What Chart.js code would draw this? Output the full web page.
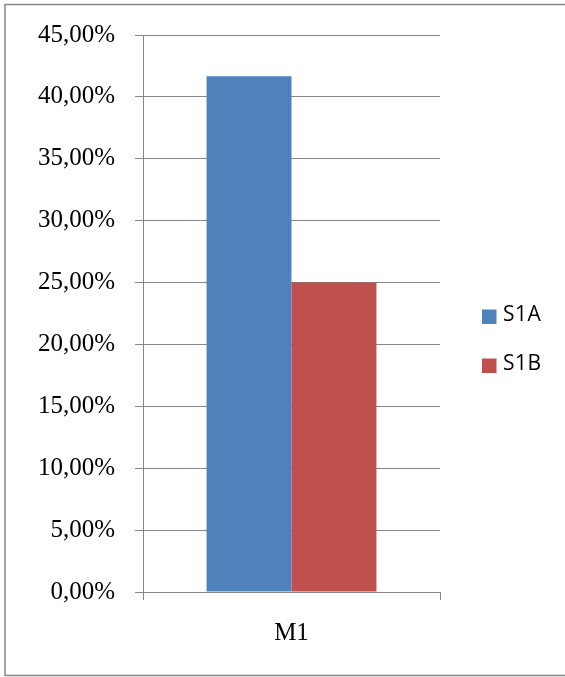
<!DOCTYPE html>
<html>
<head>
<meta charset="utf-8">
<script src="https://cdn.jsdelivr.net/npm/chart.js@4/dist/chart.umd.min.js"></script>
<style>
  html, body { margin: 0; padding: 0; background: #fff; }
  #wrap { width: 565px; height: 677px; position: relative; }
</style>
</head>
<body>
<div id="wrap"><canvas id="c" width="565" height="677"></canvas></div>
<script>
const categories = ['M1'];
const seriesNames = ['S1A', 'S1B'];
const s1aValues = [0.4167];
const s1bValues = [0.25];
const seriesColors = ['#4F81BD', '#C0504D'];
const yTickLabels = ['0,00%', '5,00%', '10,00%', '15,00%', '20,00%', '25,00%', '30,00%', '35,00%', '40,00%', '45,00%'];

const frame = {
  id: 'frame',
  beforeDraw(chart) {
    const ctx = chart.ctx;
    ctx.save();
    ctx.fillStyle = '#fff';
    ctx.fillRect(0, 0, chart.width, chart.height);
    ctx.strokeStyle = '#868686';
    ctx.lineWidth = 1.5;
    ctx.strokeRect(5, 4.5, chart.width + 10, chart.height - 6);
    ctx.restore();
  }
};

const sideLegend = {
  id: 'sideLegend',
  afterDraw(chart) {
    const ctx = chart.ctx;
    const a = chart.chartArea;
    ctx.save();
    ctx.font = '21px "Open Sans"';
    if ('letterSpacing' in ctx) ctx.letterSpacing = '0.5px';
    ctx.textBaseline = 'alphabetic';
    ctx.textAlign = 'left';
    chart.data.datasets.forEach((ds, i) => {
      const cy = 316.5 + i * 49;
      const x = a.right + 42;
      ctx.fillStyle = ds.backgroundColor;
      ctx.fillRect(x, cy - 7, 14.5, 14.5);
      ctx.fillStyle = '#000';
      ctx.fillText(ds.label, x + 21, cy + 4.5);
    });
    ctx.restore();
  }
};

new Chart(document.getElementById('c'), {
  type: 'bar',
  data: {
    labels: categories,
    datasets: [
      { label: seriesNames[0], data: s1aValues, backgroundColor: seriesColors[0] },
      { label: seriesNames[1], data: s1bValues, backgroundColor: seriesColors[1] }
    ]
  },
  options: {
    responsive: false,
    animation: false,
    devicePixelRatio: 1,
    layout: { padding: { top: 34, right: 125, bottom: 0, left: 0 } },
    datasets: { bar: { categoryPercentage: 0.572, barPercentage: 1.0 } },
    plugins: { legend: { display: false }, tooltip: { enabled: false } },
    scales: {
      x: {
        offset: true,
        grid: { offset: true, drawOnChartArea: false, drawTicks: true, tickLength: 8, color: '#868686', lineWidth: 1 },
        border: { display: true, color: '#868686', width: 1 },
        ticks: { color: '#000', font: { family: '"Liberation Serif"', size: 25 }, padding: 18 },
        afterFit(scale) { scale.height = 85; }
      },
      y: {
        min: 0,
        max: 0.45,
        grid: { color: '#868686', lineWidth: 1, drawTicks: true, tickLength: 8 },
        border: { display: true, color: '#868686', width: 1 },
        ticks: {
          stepSize: 0.05,
          color: '#000',
          font: { family: '"Liberation Serif"', size: 25 },
          padding: 20,
          callback: (v, i) => yTickLabels[i]
        },
        afterFit(scale) { scale.width = 143; }
      }
    }
  },
  plugins: [frame, sideLegend]
});
</script>
</body>
</html>
